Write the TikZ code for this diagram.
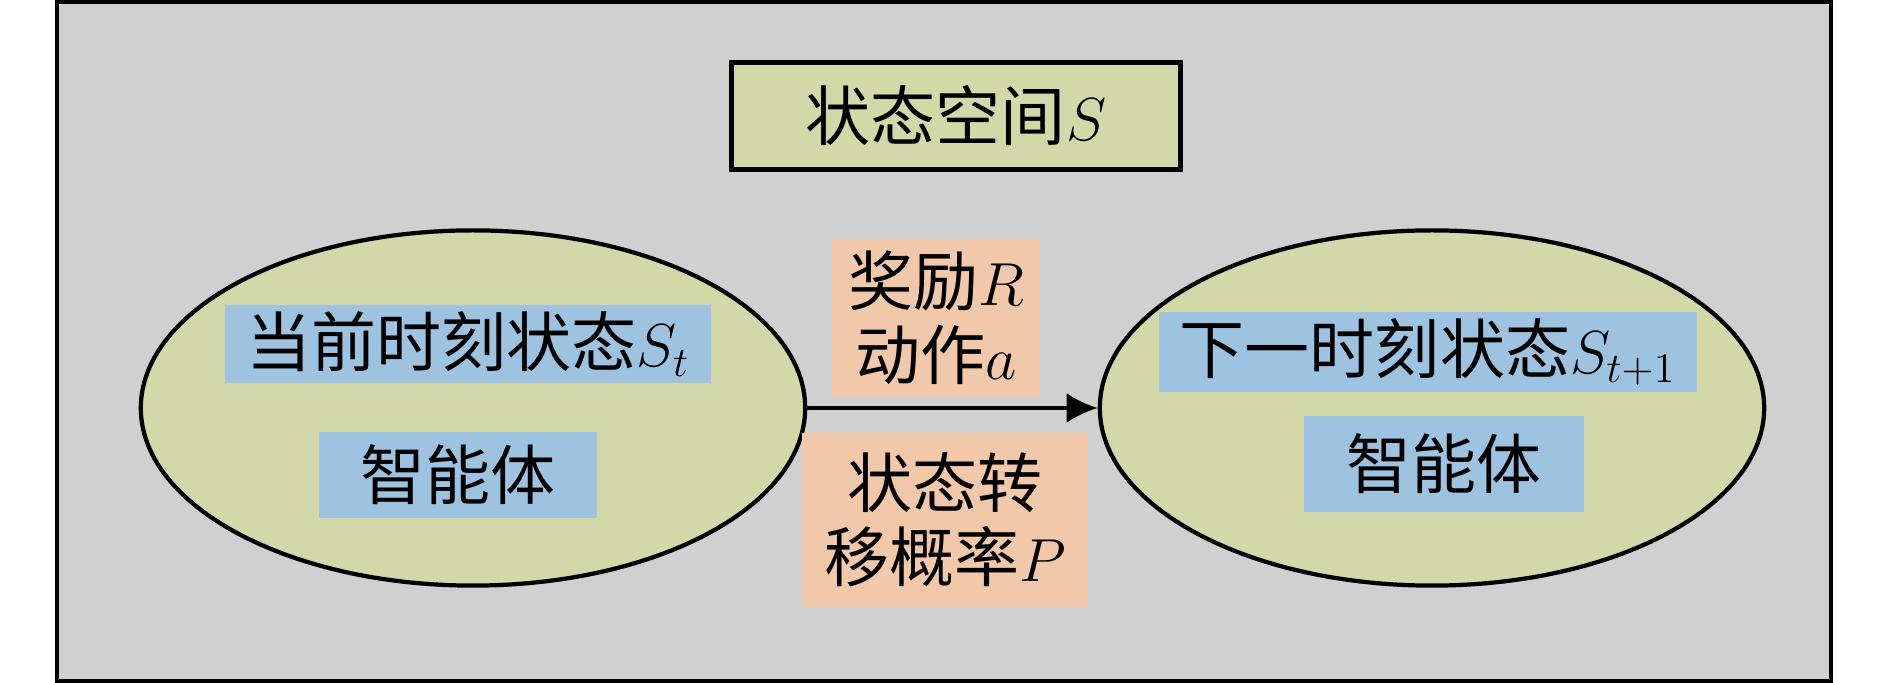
\documentclass[tikz,border=0pt]{standalone}
\usepackage{fontspec}
\newfontfamily\cjk{Noto Sans CJK SC}
\usetikzlibrary{shapes.geometric,arrows.meta}
\definecolor{bggray}{RGB}{208,208,208}
\definecolor{spacegreen}{RGB}{211,216,168}
\definecolor{agentblue}{RGB}{158,195,225}
\definecolor{rewardpeach}{RGB}{241,201,170}

\tikzset{
  cntext/.style={font=\cjk\fontsize{18.5}{21}\selectfont, inner sep=0pt, align=center},
  spacebox/.style={cntext, draw, line width=1.4pt, fill=spacegreen},
  stateell/.style={ellipse, draw, line width=1.2pt, fill=spacegreen, minimum width=6.64cm, minimum height=3.55cm},
  bluebox/.style={cntext, fill=agentblue},
  peachbox/.style={cntext, fill=rewardpeach}
}

\begin{document}
\begin{tikzpicture}[x=0.01cm, y=-0.01cm]
\useasboundingbox (0,0) rectangle (1890,683);
\fill[white] (0,0) rectangle (1890,683);

% Outer frame
\draw[line width=1.2pt, fill=bggray] (57,2) rectangle (1831,681);

% State space title
\node[spacebox, minimum width=4.48cm, minimum height=1.07cm] (space) at (956,116) {状态空间$S$};

% States
\node[stateell] (curr) at (473,408) {};
\node[stateell] (next) at (1432,408) {};

\node[bluebox, minimum width=4.86cm, minimum height=0.78cm] (currlbl) at (468,344) {当前时刻状态$S_t$};
\node[bluebox, minimum width=2.77cm, minimum height=0.86cm] (curragent) at (458,475) {智能体};

\node[bluebox, minimum width=5.37cm, minimum height=0.79cm] (nextlbl) at (1428,352) {下一时刻状态$S_{t+1}$};
\node[bluebox, minimum width=2.80cm, minimum height=0.95cm] (nextagent) at (1444,464) {智能体};

% Transition
\draw[-{Latex[length=3.1mm,width=3mm]}, line width=1.1pt] (curr.east) -- (next.west);
\node[peachbox, minimum width=2.08cm, minimum height=1.57cm] (reward) at (936,318) {奖励$R$\\动作$a$};
\node[peachbox, minimum width=2.86cm, minimum height=1.74cm] (trans) at (945,520) {状态转\\移概率$P$};

\end{tikzpicture}
\end{document}
